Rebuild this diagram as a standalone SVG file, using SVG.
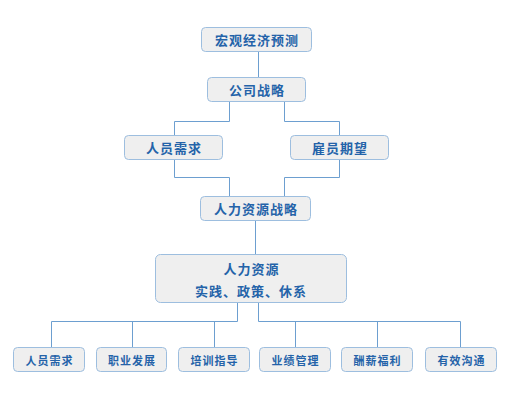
<svg xmlns="http://www.w3.org/2000/svg" width="520" height="413" viewBox="0 0 520 413">
<style>
.n rect{fill:#efefef;stroke:#9dbedf;stroke-width:1}
.n text{font-family:"Noto Sans CJK SC","Noto Sans",sans-serif;font-weight:bold;fill:#2463a9;text-anchor:middle;dominant-baseline:central;font-size:13px;letter-spacing:1px}
.s text{font-size:11px;letter-spacing:1px}
#conn path{fill:none;stroke:#6d9fd0;stroke-width:1}
</style>
<rect width="520" height="413" fill="#ffffff"/>
<g id="conn">
<path d="M258.5 51.5V77.5"/>
<path d="M229.5 101.5V121.5H174.5V135.5"/>
<path d="M284.5 101.5V121.5H339.5V135.5"/>
<path d="M174.5 159.5V177.5H229.5V196.5"/>
<path d="M339.5 159.5V177.5H284.5V196.5"/>
<path d="M255.5 220.5V254.5"/>
<path d="M237.5 302.5V321.5H51.5V347.5M132.5 321.5V347.5M214.5 321.5V347.5"/>
<path d="M258.5 302.5V321.5H460.5V347.5M295.5 321.5V347.5M377.5 321.5V347.5"/>
</g>
<g id="n1" class="n"><rect x="201.5" y="27.5" width="110" height="24" rx="4"/><text x="257" y="39.5">宏观经济预测</text></g>
<g id="n2" class="n"><rect x="207.5" y="77.5" width="98" height="24" rx="4"/><text x="257" y="89.5">公司战略</text></g>
<g id="n3" class="n"><rect x="124.5" y="135.5" width="98" height="24" rx="4"/><text x="174" y="147.5">人员需求</text></g>
<g id="n4" class="n"><rect x="290.5" y="135.5" width="98" height="24" rx="4"/><text x="340" y="147.5">雇员期望</text></g>
<g id="n5" class="n"><rect x="200.5" y="196.5" width="110" height="24" rx="4"/><text x="256" y="208.5">人力资源战略</text></g>
<g id="n6" class="n"><rect x="155.5" y="254.5" width="191" height="48" rx="5"/><text x="251.5" y="268.5">人力资源</text><text x="251" y="290">实践、政策、休系</text></g>
<g id="n7" class="n s"><rect x="13.5" y="347.5" width="71" height="24" rx="4"/><text x="49.5" y="359.5">人员需求</text></g>
<g id="n8" class="n s"><rect x="96.5" y="347.5" width="70" height="24" rx="4"/><text x="132" y="359.5">职业发展</text></g>
<g id="n9" class="n s"><rect x="178.5" y="347.5" width="71" height="24" rx="4"/><text x="214.5" y="359.5">培训指导</text></g>
<g id="n10" class="n s"><rect x="259.5" y="347.5" width="71" height="24" rx="4"/><text x="295.5" y="359.5">业绩管理</text></g>
<g id="n11" class="n s"><rect x="341.5" y="347.5" width="71" height="24" rx="4"/><text x="377.5" y="359.5">酬薪福利</text></g>
<g id="n12" class="n s"><rect x="425.5" y="347.5" width="71" height="24" rx="4"/><text x="461.5" y="359.5">有效沟通</text></g>
</svg>
